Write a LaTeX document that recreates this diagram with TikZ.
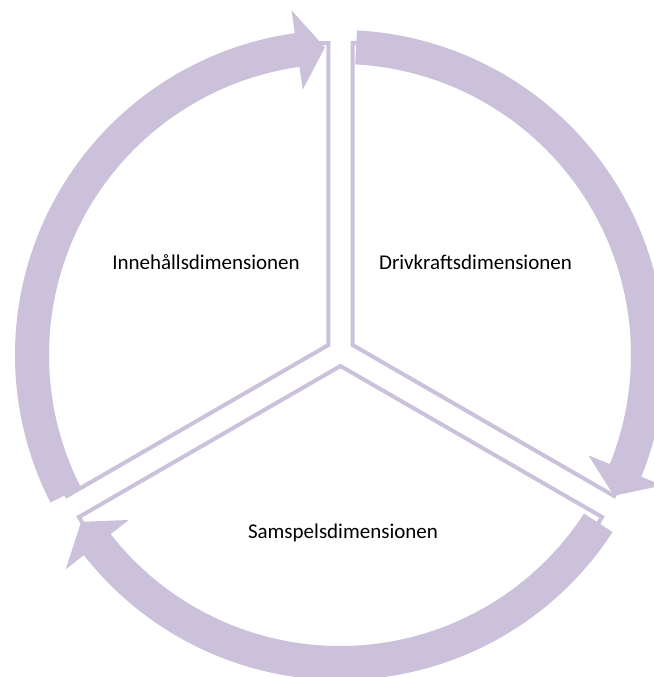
\documentclass[tikz,border=0pt]{standalone}
\usepackage{fontspec}
\setmainfont{Carlito}
\usetikzlibrary{calc}

\definecolor{lilac}{HTML}{CCC1DA}

\tikzset{
    sector/.style={draw=lilac, line width=2pt, fill=white, line join=miter},
    band/.style={fill=lilac},
    dimlabel/.style={font=\fontsize{10.5}{12.6}\selectfont, text=black}
}

\begin{document}
\begin{tikzpicture}[x=0.5pt, y=0.5pt]
    \useasboundingbox (-340,-322) rectangle (314,355);

    % Define the corners of the three pie pieces (pushed out a little)
    \coordinate (S) at (0.5,3);
    \coordinate (L) at ($ (S) + (150:14) $);
    \coordinate (R) at ($ (S) + (30:14) $);
    \coordinate (B) at ($ (S) + (270:14) $);

    % Draw the pie pieces with a thin outline
    \draw[sector] (L) -- ++(90:302) arc[start angle=90, end angle=210, radius=302] -- cycle;
    \draw[sector] (R) -- ++(-30:302) arc[start angle=-30, end angle=90, radius=302] -- cycle;
    \draw[sector] (B) -- ++(210:302) arc[start angle=210, end angle=330, radius=302] -- cycle;

    % --- Thick curved arrows round the pieces ---

    % Left arrow: up to the top
    \fill[band] (207:325) arc[start angle=207, end angle=98, radius=325]
        -- (98:348) -- (92.8:308) -- (98:268)
        -- (98:291) arc[start angle=98, end angle=207, radius=291] -- cycle;

    % Right arrow: down to the lower right
    \fill[band] (87:325) arc[start angle=87, end angle=-22, radius=325]
        -- (-22:348) -- (-27.2:308) -- (-22:268)
        -- (-22:291) arc[start angle=-22, end angle=87, radius=291] -- cycle;

    % Bottom arrow: round to the lower left
    \fill[band] (-33:325) arc[start angle=-33, end angle=-142, radius=325]
        -- (-142:348) -- (-147.2:308) -- (-142:268)
        -- (-142:291) arc[start angle=-142, end angle=-33, radius=291] -- cycle;
    % --- End of arrows ---

    \node[dimlabel] (inneh) at (-134,93) {Innehållsdimensionen};
    \node[dimlabel] (drivk) at (135.5,93) {Drivkraftsdimensionen};
    \node[dimlabel] (samspel) at (3,-178) {Samspelsdimensionen};
\end{tikzpicture}
\end{document}
